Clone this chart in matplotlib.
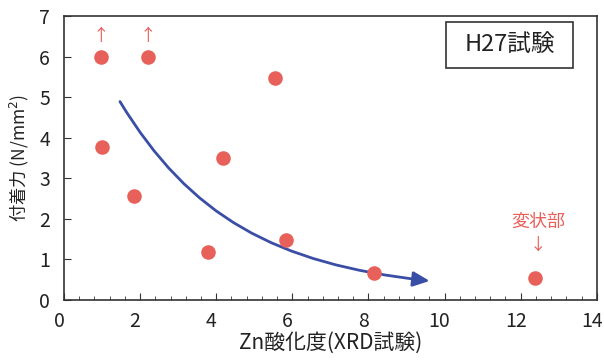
import matplotlib
matplotlib.use("Agg")
import matplotlib.pyplot as plt
from matplotlib.path import Path
from matplotlib.patches import FancyArrowPatch, Rectangle
from matplotlib.transforms import ScaledTranslation

plt.rcParams['font.family'] = ['Noto Sans CJK JP', 'DejaVu Sans']

# measured points
zn_ox = [0.98, 2.21, 1.0, 1.84, 3.78, 4.18, 5.55, 5.83, 8.14, 12.39]
bond = [6.0, 6.0, 3.77, 2.56, 1.18, 3.5, 5.48, 1.48, 0.67, 0.55]

# trend arrow (start, two controls, end)
trend_x = [1.47, 3.31, 5.54, 9.61]
trend_y = [4.89, 2.05, 0.89, 0.47]

# points with "more than" marks
up_x = [0.98, 2.21]

red = '#e8605a'
blue = '#3a4ea6'

fig = plt.figure(figsize=(6.04, 3.6), dpi=100)
ax = fig.add_axes([0.106, 0.1667, 0.882, 0.789])

ax.scatter(zn_ox, bond, s=110, color=red, zorder=3, linewidths=0)

for x in up_x:
    ax.text(x, 6.5, '↑', color=red, fontsize=12, ha='center', va='center')
ax.text(12.45, 1.93, '変状部', color=red, fontsize=13, ha='center', va='center')
ax.text(12.45, 1.36, '↓', color=red, fontsize=12, ha='center', va='center')

path = Path(list(zip(trend_x, trend_y)),
            [Path.MOVETO, Path.CURVE4, Path.CURVE4, Path.CURVE4])
arr = FancyArrowPatch(path=path, arrowstyle='-|>,head_length=10,head_width=4.5',
                      color=blue, lw=2.0, zorder=2, shrinkA=0, shrinkB=0)
ax.add_patch(arr)

ax.add_patch(Rectangle((0.717, 0.817), 0.238, 0.162, transform=ax.transAxes,
                       fc='white', ec='#333333', lw=1.2, zorder=4))
ax.text(0.836, 0.898, 'H27試験', transform=ax.transAxes, fontsize=17,
        ha='center', va='center', zorder=5, color='#222222')

ax.set_xlim(0, 14)
ax.set_ylim(0, 7)
ax.set_xticks(range(0, 15, 2))
ax.set_xticks([i * 0.4 for i in range(36)], minor=True)
ax.set_yticks(range(0, 8))
ax.tick_params(axis='both', direction='in', labelsize=14, length=5, color='#333333',
               labelcolor='#222222')
ax.tick_params(axis='x', which='minor', direction='in', length=3, color='#333333')
ax.tick_params(axis='y', pad=10)
ax.tick_params(axis='x', pad=8)
for s in ax.spines.values():
    s.set_color('#333333')
    s.set_linewidth(1.2)

# x tick labels sit a little left of their ticks in the original
shift = ScaledTranslation(-5 / 100, 0, fig.dpi_scale_trans)
for t in ax.xaxis.get_major_ticks():
    t.label1.set_transform(t.label1.get_transform() + shift)

ax.set_xlabel('Zn酸化度(XRD試験)', fontsize=15, labelpad=0, color='#222222')
ax.set_ylabel('付着力 (N/mm$^2$)', fontsize=12.5, labelpad=6, color='#222222')

fig.savefig('out.png', dpi=100)
